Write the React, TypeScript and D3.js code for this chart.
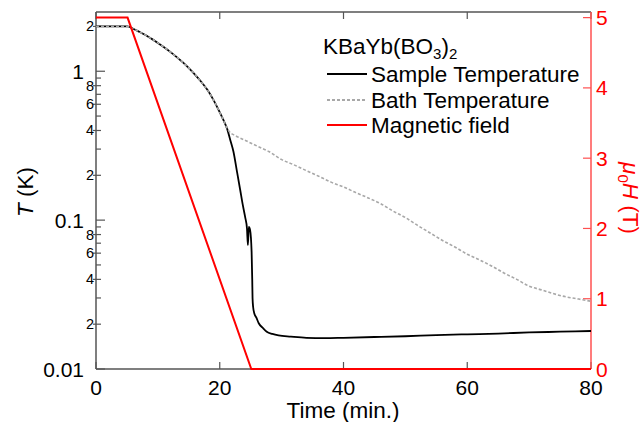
import React, { useEffect, useRef } from 'react';
import * as d3 from 'd3';

// magnetic field ramp (T) vs time (min)
const fieldTime = [0, 5.1, 25.1, 80];
const fieldValue = [5, 5, 0, 0];

// sample temperature (K)
const sampleTime = [
    0, 2, 4, 5.1, 6, 7, 8, 9, 10, 11, 12, 13, 14, 15, 16, 17, 18, 19, 20, 20.6,
    21.2, 21.7, 22.2, 22.8, 23.3, 23.7, 24.1, 24.4, 24.55, 24.7, 24.9, 25.15, 25.25, 25.3, 25.4,
    25.6, 25.9, 26.3, 27, 27.6, 28.5, 29.5, 31.5, 34, 37, 40, 45, 50, 55, 60, 65, 70, 75, 80
];
const sampleTemp = [
    2.0, 2.0, 2.0, 2.0, 1.93, 1.84, 1.75, 1.65, 1.55, 1.45, 1.35, 1.25, 1.15, 1.05, 0.95, 0.85, 0.75, 0.64, 0.53, 0.47,
    0.41, 0.345, 0.29, 0.21, 0.16, 0.128, 0.105, 0.088, 0.068, 0.09, 0.086, 0.061, 0.04, 0.03, 0.026,
    0.0235, 0.0222, 0.0203, 0.0188, 0.0178, 0.0172, 0.0168, 0.0165, 0.0162, 0.0161, 0.0162, 0.0164, 0.0166, 0.0169, 0.0171, 0.0173, 0.0176, 0.0178, 0.018
];

// bath temperature (K)
const bathTime = [
    0, 2, 4, 5.1, 6, 7, 8, 9, 10, 11, 12, 13, 14, 15, 16, 17, 18, 19, 20, 20.6,
    21, 21.5, 22.5, 24, 26, 28, 30, 32, 34, 36, 38, 40, 42, 44, 46, 48, 50, 52, 54,
    56, 58, 60, 62, 64, 66, 68, 70, 72, 74, 76, 78, 80
];
const bathTemp = [
    2.0, 2.0, 2.0, 2.0, 1.93, 1.84, 1.75, 1.65, 1.55, 1.45, 1.35, 1.25, 1.15, 1.05, 0.95, 0.85, 0.75, 0.64, 0.53, 0.47,
    0.43, 0.395, 0.37, 0.345, 0.315, 0.288, 0.255, 0.235, 0.215, 0.197, 0.18, 0.167, 0.153, 0.141, 0.129, 0.115, 0.104, 0.092, 0.082,
    0.073, 0.066, 0.059, 0.054, 0.049, 0.044, 0.04, 0.036, 0.034, 0.032, 0.0305, 0.0295, 0.0285
];

const xTicks = [0, 20, 40, 60, 80];
const fieldTicks = [0, 1, 2, 3, 4, 5];
const decades = [0.01, 0.1, 1];
const decadeLabels = ['0.01', '0.1', '1'];
const minorSteps = [2, 3, 4, 5, 6, 7, 8, 9];

const FONT = '"Liberation Sans", Arial, sans-serif';
const NUM = 21;   // tick number size
const TXT = 22.5; // titles / legend size

const App: React.FC = () => {
    const svgRef = useRef<SVGSVGElement>(null);

    useEffect(() => {
        if (!svgRef.current) return;
        const svg = d3.select(svgRef.current);
        svg.selectAll('*').remove();

        const left = 96, right = 591, top = 12, bottom = 369;

        const x = d3.scaleLinear().domain([0, 80]).range([left, right]);
        const y = d3.scaleLog().domain([0.01, 2.5]).range([bottom, top]);
        const yR = d3.scaleLinear().domain([0, 5.08]).range([bottom, top]);

        const axisColor = '#555';

        // frame: top + bottom + left
        svg.append('line').attr('x1', left).attr('x2', right).attr('y1', top).attr('y2', top)
            .attr('stroke', axisColor).attr('stroke-width', 1.5);
        svg.append('line').attr('x1', left).attr('x2', right).attr('y1', bottom).attr('y2', bottom)
            .attr('stroke', axisColor).attr('stroke-width', 1.5);
        svg.append('line').attr('x1', left).attr('x2', left).attr('y1', top).attr('y2', bottom)
            .attr('stroke', axisColor).attr('stroke-width', 1.5);

        // x ticks (inside, bottom and top)
        xTicks.forEach(t => {
            svg.append('line').attr('x1', x(t)).attr('x2', x(t)).attr('y1', bottom).attr('y2', bottom - 7)
                .attr('stroke', axisColor).attr('stroke-width', 1.2);
            svg.append('line').attr('x1', x(t)).attr('x2', x(t)).attr('y1', top).attr('y2', top + 7)
                .attr('stroke', axisColor).attr('stroke-width', 1.2);
            svg.append('text').attr('x', x(t)).attr('y', 395).attr('text-anchor', 'middle')
                .attr('font-size', NUM).attr('font-family', FONT).attr('fill', '#000').text(t);
        });
        svg.append('text').attr('x', 343).attr('y', 418).attr('text-anchor', 'middle')
            .attr('font-size', TXT).attr('font-family', FONT).text('Time (min.)');

        // log y ticks
        decades.forEach((d, i) => {
            svg.append('line').attr('x1', left).attr('x2', left + 9).attr('y1', y(d)).attr('y2', y(d))
                .attr('stroke', axisColor).attr('stroke-width', 1.2);
            svg.append('text').attr('x', 84).attr('y', y(d) + 7.5).attr('text-anchor', 'end')
                .attr('font-size', NUM).attr('font-family', FONT).text(decadeLabels[i]);
            minorSteps.forEach(m => {
                const v = m * d;
                if (v > 2.5) return;
                const labeled = m % 2 === 0;
                svg.append('line').attr('x1', labeled ? left - 3 : left).attr('x2', left + 5)
                    .attr('y1', y(v)).attr('y2', y(v))
                    .attr('stroke', axisColor).attr('stroke-width', 1.2);
                if (labeled) {
                    svg.append('text').attr('x', 94).attr('y', y(v) + 5).attr('text-anchor', 'end')
                        .attr('font-size', 14.5).attr('font-family', FONT).text(m);
                }
            });
        });

        const tLabel = svg.append('text')
            .attr('transform', 'translate(33,192) rotate(-90)')
            .attr('text-anchor', 'middle').attr('font-size', TXT).attr('font-family', FONT);
        tLabel.append('tspan').attr('font-style', 'italic').text('T');
        tLabel.append('tspan').text(' (K)');

        // right field axis
        const red = '#ff0000';
        svg.append('line').attr('x1', right).attr('x2', right).attr('y1', top).attr('y2', bottom)
            .attr('stroke', '#ff5050').attr('stroke-width', 1.5);
        fieldTicks.forEach(t => {
            svg.append('line').attr('x1', right).attr('x2', right - 8).attr('y1', yR(t)).attr('y2', yR(t))
                .attr('stroke', '#ff5050').attr('stroke-width', 1.2);
            svg.append('text').attr('x', 596).attr('y', yR(t) + 7.5)
                .attr('font-size', NUM).attr('font-family', FONT).attr('fill', red).text(t);
        });
        const hLabel = svg.append('text')
            .attr('transform', 'translate(623,198) rotate(90)')
            .attr('text-anchor', 'middle').attr('font-size', TXT).attr('font-family', FONT).attr('fill', red);
        hLabel.append('tspan').attr('font-style', 'italic').text('μ');
        hLabel.append('tspan').attr('font-size', 15).attr('dy', 5).text('0');
        hLabel.append('tspan').attr('font-style', 'italic').attr('dy', -5).text('H');
        hLabel.append('tspan').text(' (T)');

        // curves
        const bathPts = bathTime.map((t, i) => [x(t), y(bathTemp[i])] as [number, number]);
        const samplePts = sampleTime.map((t, i) => [x(t), y(sampleTemp[i])] as [number, number]);
        const fieldPts = fieldTime.map((t, i) => [x(t), yR(fieldValue[i])] as [number, number]);

        const smooth = d3.line().curve(d3.curveMonotoneX);
        const straight = d3.line();

        svg.append('path').attr('d', smooth(samplePts))
            .attr('fill', 'none').attr('stroke', '#000').attr('stroke-width', 1.8);
        svg.append('path').attr('d', smooth(bathPts))
            .attr('fill', 'none').attr('stroke', '#a8a8a8').attr('stroke-width', 1.6)
            .attr('stroke-dasharray', '3,2');
        svg.append('path').attr('d', straight(fieldPts))
            .attr('fill', 'none').attr('stroke', red).attr('stroke-width', 2);

        // legend
        const title = svg.append('text').attr('x', 323).attr('y', 54)
            .attr('font-size', TXT).attr('font-family', FONT);
        title.append('tspan').text('KBaYb(BO');
        title.append('tspan').attr('font-size', 15).attr('dy', 5).text('3');
        title.append('tspan').attr('dy', -5).text(')');
        title.append('tspan').attr('font-size', 15).attr('dy', 5).text('2');

        const legend = [
            { label: 'Sample Temperature', color: '#000', dash: null, ly: 74 },
            { label: 'Bath Temperature', color: '#a8a8a8', dash: '3,2', ly: 100 },
            { label: 'Magnetic field', color: red, dash: null, ly: 125 },
        ];
        legend.forEach(l => {
            svg.append('line').attr('x1', 327).attr('x2', 367).attr('y1', l.ly).attr('y2', l.ly)
                .attr('stroke', l.color).attr('stroke-width', 1.8)
                .attr('stroke-dasharray', l.dash as any);
            svg.append('text').attr('x', 371).attr('y', l.ly + 8)
                .attr('font-size', TXT).attr('font-family', FONT).text(l.label);
        });
    }, []);

    return (
        <svg ref={svgRef} width={643} height={422}
            style={{ position: 'absolute', left: 0, top: 0, background: '#fff' }} />
    );
};

export default App;
